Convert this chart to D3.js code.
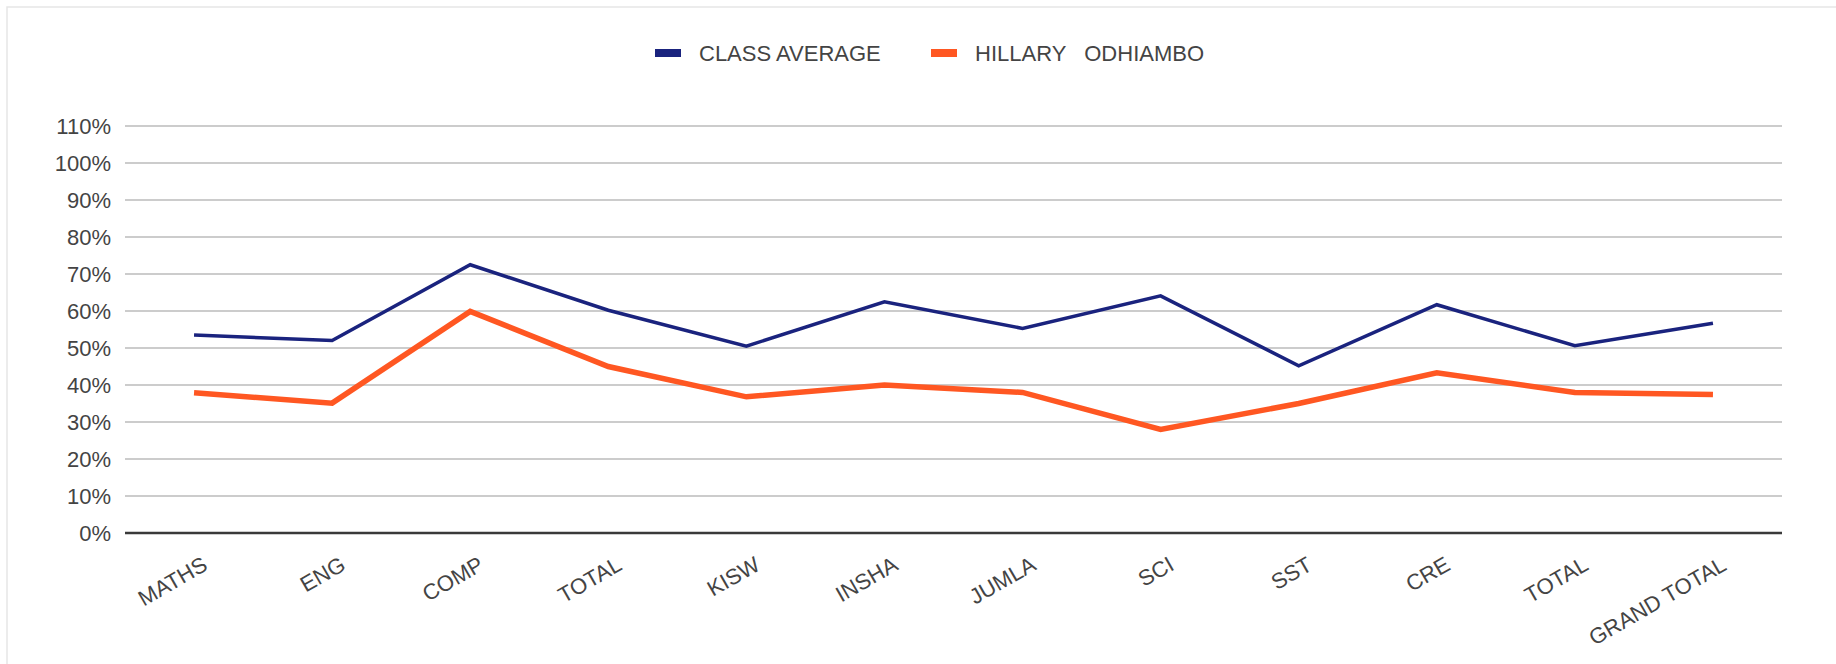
<!DOCTYPE html>
<html>
<head>
<meta charset="utf-8">
<script src="https://cdn.jsdelivr.net/npm/d3@7"></script>
<style>
  body { margin: 0; background: #fff; }
  text { font-family: "Liberation Sans", Arial, sans-serif; fill: #444; }
</style>
</head>
<body>
<div class="chart"></div>
<script>
// subjects along the x axis
var subjects = ["MATHS", "ENG", "COMP", "TOTAL", "KISW", "INSHA", "JUMLA", "SCI", "SST", "CRE", "TOTAL", "GRAND TOTAL"];
var classAverage = [0.535, 0.520, 0.725, 0.602, 0.505, 0.625, 0.553, 0.641, 0.452, 0.617, 0.506, 0.567];
var hillary = [0.379, 0.351, 0.599, 0.450, 0.368, 0.400, 0.380, 0.280, 0.350, 0.433, 0.380, 0.374];
var seriesNames = ["CLASS AVERAGE", "HILLARY   ODHIAMBO"];
var yTicks = [0, 0.1, 0.2, 0.3, 0.4, 0.5, 0.6, 0.7, 0.8, 0.9, 1.0, 1.1];

const W = 1836, H = 664;
const margin = {top: 126, right: 54, bottom: 131, left: 125};
const width = W - margin.left - margin.right,
      height = H - margin.top - margin.bottom;

var colors = d3.scaleOrdinal().domain(seriesNames).range(["#1a237e", "#ff5722"]);
var strokeW = {"CLASS AVERAGE": 3.5, "HILLARY   ODHIAMBO": 5.5};

// use index as key since TOTAL appears twice
const xScale = d3.scaleBand()
    .domain(subjects.map((d, i) => i))
    .range([0, width]);

const yScale = d3.scaleLinear()
    .domain([0, 1.1])
    .range([height, 0]);

var svg = d3.select(".chart")
    .append("svg")
    .attr("width", W)
    .attr("height", H);

// outer frame
svg.append("rect")
    .attr("x", 7).attr("y", 7)
    .attr("width", W).attr("height", H)
    .attr("fill", "none")
    .attr("stroke", "#e6e6e6")
    .attr("stroke-width", 1.5);

var g = svg.append("g")
    .attr("transform", "translate(" + margin.left + "," + margin.top + ")");

// gridlines
g.selectAll(".grid")
    .data(yTicks.filter(d => d > 0))
    .enter()
    .append("line")
    .attr("x1", 0).attr("x2", width)
    .attr("y1", d => yScale(d)).attr("y2", d => yScale(d))
    .attr("stroke", "#cccccc")
    .attr("stroke-width", 2);

// y axis labels
const yAxis = d3.axisLeft(yScale)
    .tickValues(yTicks)
    .tickFormat(d3.format(".0%"))
    .tickSize(0)
    .tickPadding(14);

var yAxisDisplay = g.append("g").call(yAxis);
yAxisDisplay.select(".domain").remove();
yAxisDisplay.selectAll("text")
    .attr("font-size", 22)
    .attr("font-family", null)
    .attr("fill", "#444");

// baseline
g.append("line")
    .attr("x1", 0).attr("x2", width)
    .attr("y1", height).attr("y2", height)
    .attr("stroke", "#3a3a3a")
    .attr("stroke-width", 2.5);

// x labels, slanted
g.selectAll(".xlab")
    .data(subjects)
    .enter()
    .append("text")
    .text(d => d)
    .attr("font-size", 22)
    .attr("text-anchor", "end")
    .attr("transform", (d, i) => "translate(" + (xScale(i) + xScale.bandwidth() / 2 + 15) + "," + (height + 36) + ") rotate(-30)");

// lines
var line = d3.line()
    .x((d, i) => xScale(i) + xScale.bandwidth() / 2)
    .y(d => yScale(d));

var seriesData = [classAverage, hillary];

g.selectAll(".series")
    .data(seriesData)
    .enter()
    .append("path")
    .attr("d", d => line(d))
    .attr("fill", "none")
    .attr("stroke", (d, i) => colors(seriesNames[i]))
    .attr("stroke-width", (d, i) => strokeW[seriesNames[i]])
    .attr("stroke-linejoin", "miter");

// legend
var legendX = [655, 931];
var legend = svg.append("g");

legend.selectAll("rect")
    .data(seriesNames)
    .enter()
    .append("rect")
    .attr("x", (d, i) => legendX[i])
    .attr("y", 49)
    .attr("width", 26)
    .attr("height", 8)
    .attr("fill", d => colors(d));

legend.selectAll("text")
    .data(seriesNames)
    .enter()
    .append("text")
    .text(d => d)
    .attr("x", (d, i) => legendX[i] + 44)
    .attr("y", 53)
    .attr("dy", "0.35em")
    .attr("font-size", 22)
    .style("white-space", "pre");
</script>
</body>
</html>
